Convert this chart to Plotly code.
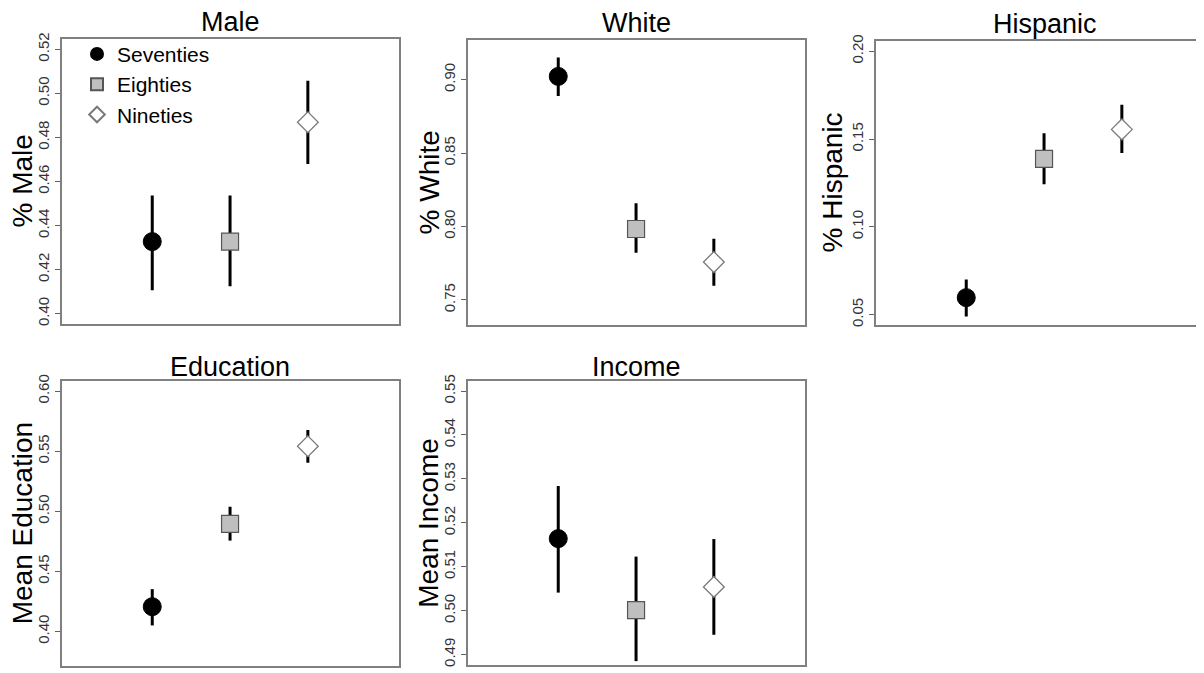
import plotly.graph_objects as go

# The page body has an 8px margin, so figure pixels = reference pixels - 8
OFF = 8
W, H = 1204 - OFF, 673 - OFF

decades = ["Seventies", "Eighties", "Nineties"]
xpos = [1, 2, 3]

male_mean = [0.4327, 0.4327, 0.4869]
male_lo = [0.4106, 0.4124, 0.4679]
male_hi = [0.4536, 0.4536, 0.5057]

white_mean = [0.9022, 0.7983, 0.7758]
white_lo = [0.8888, 0.7821, 0.7597]
white_hi = [0.9150, 0.8158, 0.7916]

hisp_mean = [0.0597, 0.1387, 0.1555]
hisp_lo = [0.0489, 0.1242, 0.1420]
hisp_hi = [0.0700, 0.1533, 0.1695]

edu_mean = [0.4206, 0.4896, 0.5541]
edu_lo = [0.4050, 0.4756, 0.5404]
edu_hi = [0.4352, 0.5038, 0.5676]

inc_mean = [0.5164, 0.5001, 0.5054]
inc_lo = [0.5041, 0.4885, 0.4945]
inc_hi = [0.5284, 0.5123, 0.5163]

titles = ["Male", "White", "Hispanic", "Education", "Income"]
ylabels = ["% Male", "% White", "% Hispanic", "Mean Education", "Mean Income"]
yticks = [
    [0.40, 0.42, 0.44, 0.46, 0.48, 0.50, 0.52],
    [0.75, 0.80, 0.85, 0.90],
    [0.05, 0.10, 0.15, 0.20],
    [0.40, 0.45, 0.50, 0.55, 0.60],
    [0.49, 0.50, 0.51, 0.52, 0.53, 0.54, 0.55],
]
ylims = [(0.40, 0.52), (0.74, 0.92), (0.05, 0.20), (0.38, 0.60), (0.49, 0.55)]

panels = [
    (male_mean, male_lo, male_hi),
    (white_mean, white_lo, white_hi),
    (hisp_mean, hisp_lo, hisp_hi),
    (edu_mean, edu_lo, edu_hi),
    (inc_mean, inc_lo, inc_hi),
]

# pixel boxes in reference/page coordinates (left, right, top, bottom)
boxes = [
    (62, 399, 33, 322),
    (468, 805, 34, 323),
    (876, 1204, 35, 323),
    (62, 399, 379, 668),
    (468, 805, 379, 667),
]
full_right = [399, 805, 1213, 399, 805]
ylab_x = [23, 430, 833.5, 23, 430]
title_dy = [16.5, 16.5, 16.5, 13.5, 13.5]

styles = [
    dict(symbol="circle", size=18, color="black", line=dict(color="black", width=1)),
    dict(symbol="square", size=17, color="#bfbfbf", line=dict(color="#555555", width=1.2)),
    dict(symbol="diamond", size=16, color="white", line=dict(color="#7a7a7a", width=1.3)),
]

fig = go.Figure()
annotations = []
unit_px = 77.8  # pixels per x unit


def fx(px):
    return (px - OFF) / W


def fy(py):
    return 1 - (py - OFF) / H


for p, ((mean, lo, hi), (l, r, t, b)) in enumerate(zip(panels, boxes)):
    ax = "" if p == 0 else str(p + 1)
    for i in range(3):
        fig.add_trace(go.Scatter(
            x=[xpos[i]], y=[mean[i]],
            mode="markers",
            name=decades[i],
            showlegend=(p == 0),
            marker=styles[i],
            error_y=dict(type="data", symmetric=False,
                         array=[hi[i] - mean[i]], arrayminus=[mean[i] - lo[i]],
                         width=0, thickness=3, color="black"),
            xaxis="x" + ax, yaxis="y" + ax,
        ))
    x0 = -0.16
    x1 = x0 + (r - l) / unit_px
    lo_y, hi_y = ylims[p]
    pad = (hi_y - lo_y) * 0.04
    fig.update_layout(**{
        "xaxis" + ax: dict(domain=[fx(l), min(fx(r), 1.0)], range=[x0, x1], showline=True,
                           mirror=True, linecolor="#808080", linewidth=1.5,
                           showticklabels=False, ticks="", showgrid=False,
                           zeroline=False, anchor="y" + ax),
        "yaxis" + ax: dict(domain=[fy(b), fy(t)], range=[lo_y - pad, hi_y + pad],
                           showline=True, mirror=(p != 2), linecolor="#808080",
                           linewidth=1.5, ticks="outside", ticklen=5,
                           tickcolor="#606060", tickwidth=1,
                           tickvals=yticks[p], tickformat=".2f", tickangle=-90,
                           tickfont=dict(family="Arial", size=15, color="#333333"),
                           showgrid=False, zeroline=False, anchor="x" + ax),
    })
    annotations.append(dict(
        text=titles[p], xref="paper", yref="paper",
        x=fx((l + full_right[p]) / 2),
        y=fy(t - title_dy[p]), xanchor="center", yanchor="middle", showarrow=False,
        font=dict(family="Arial", size=27, color="black"),
    ))
    annotations.append(dict(
        text=ylabels[p], xref="paper", yref="paper",
        x=fx(ylab_x[p] - 1), y=fy((t + b) / 2), xanchor="center", yanchor="middle",
        textangle=-90, showarrow=False,
        font=dict(family="Arial", size=28, color="black"),
    ))

fig.update_layout(
    width=W, height=H,
    margin=dict(l=0, r=0, t=0, b=0),
    paper_bgcolor="white", plot_bgcolor="white",
    annotations=annotations,
    showlegend=True,
    legend=dict(x=fx(77), y=fy(28), xanchor="left", yanchor="top",
                bgcolor="rgba(0,0,0,0)", itemsizing="constant",
                font=dict(family="Arial", size=21, color="black"),
                tracegroupgap=0),
)

fig.write_html("out.html")
